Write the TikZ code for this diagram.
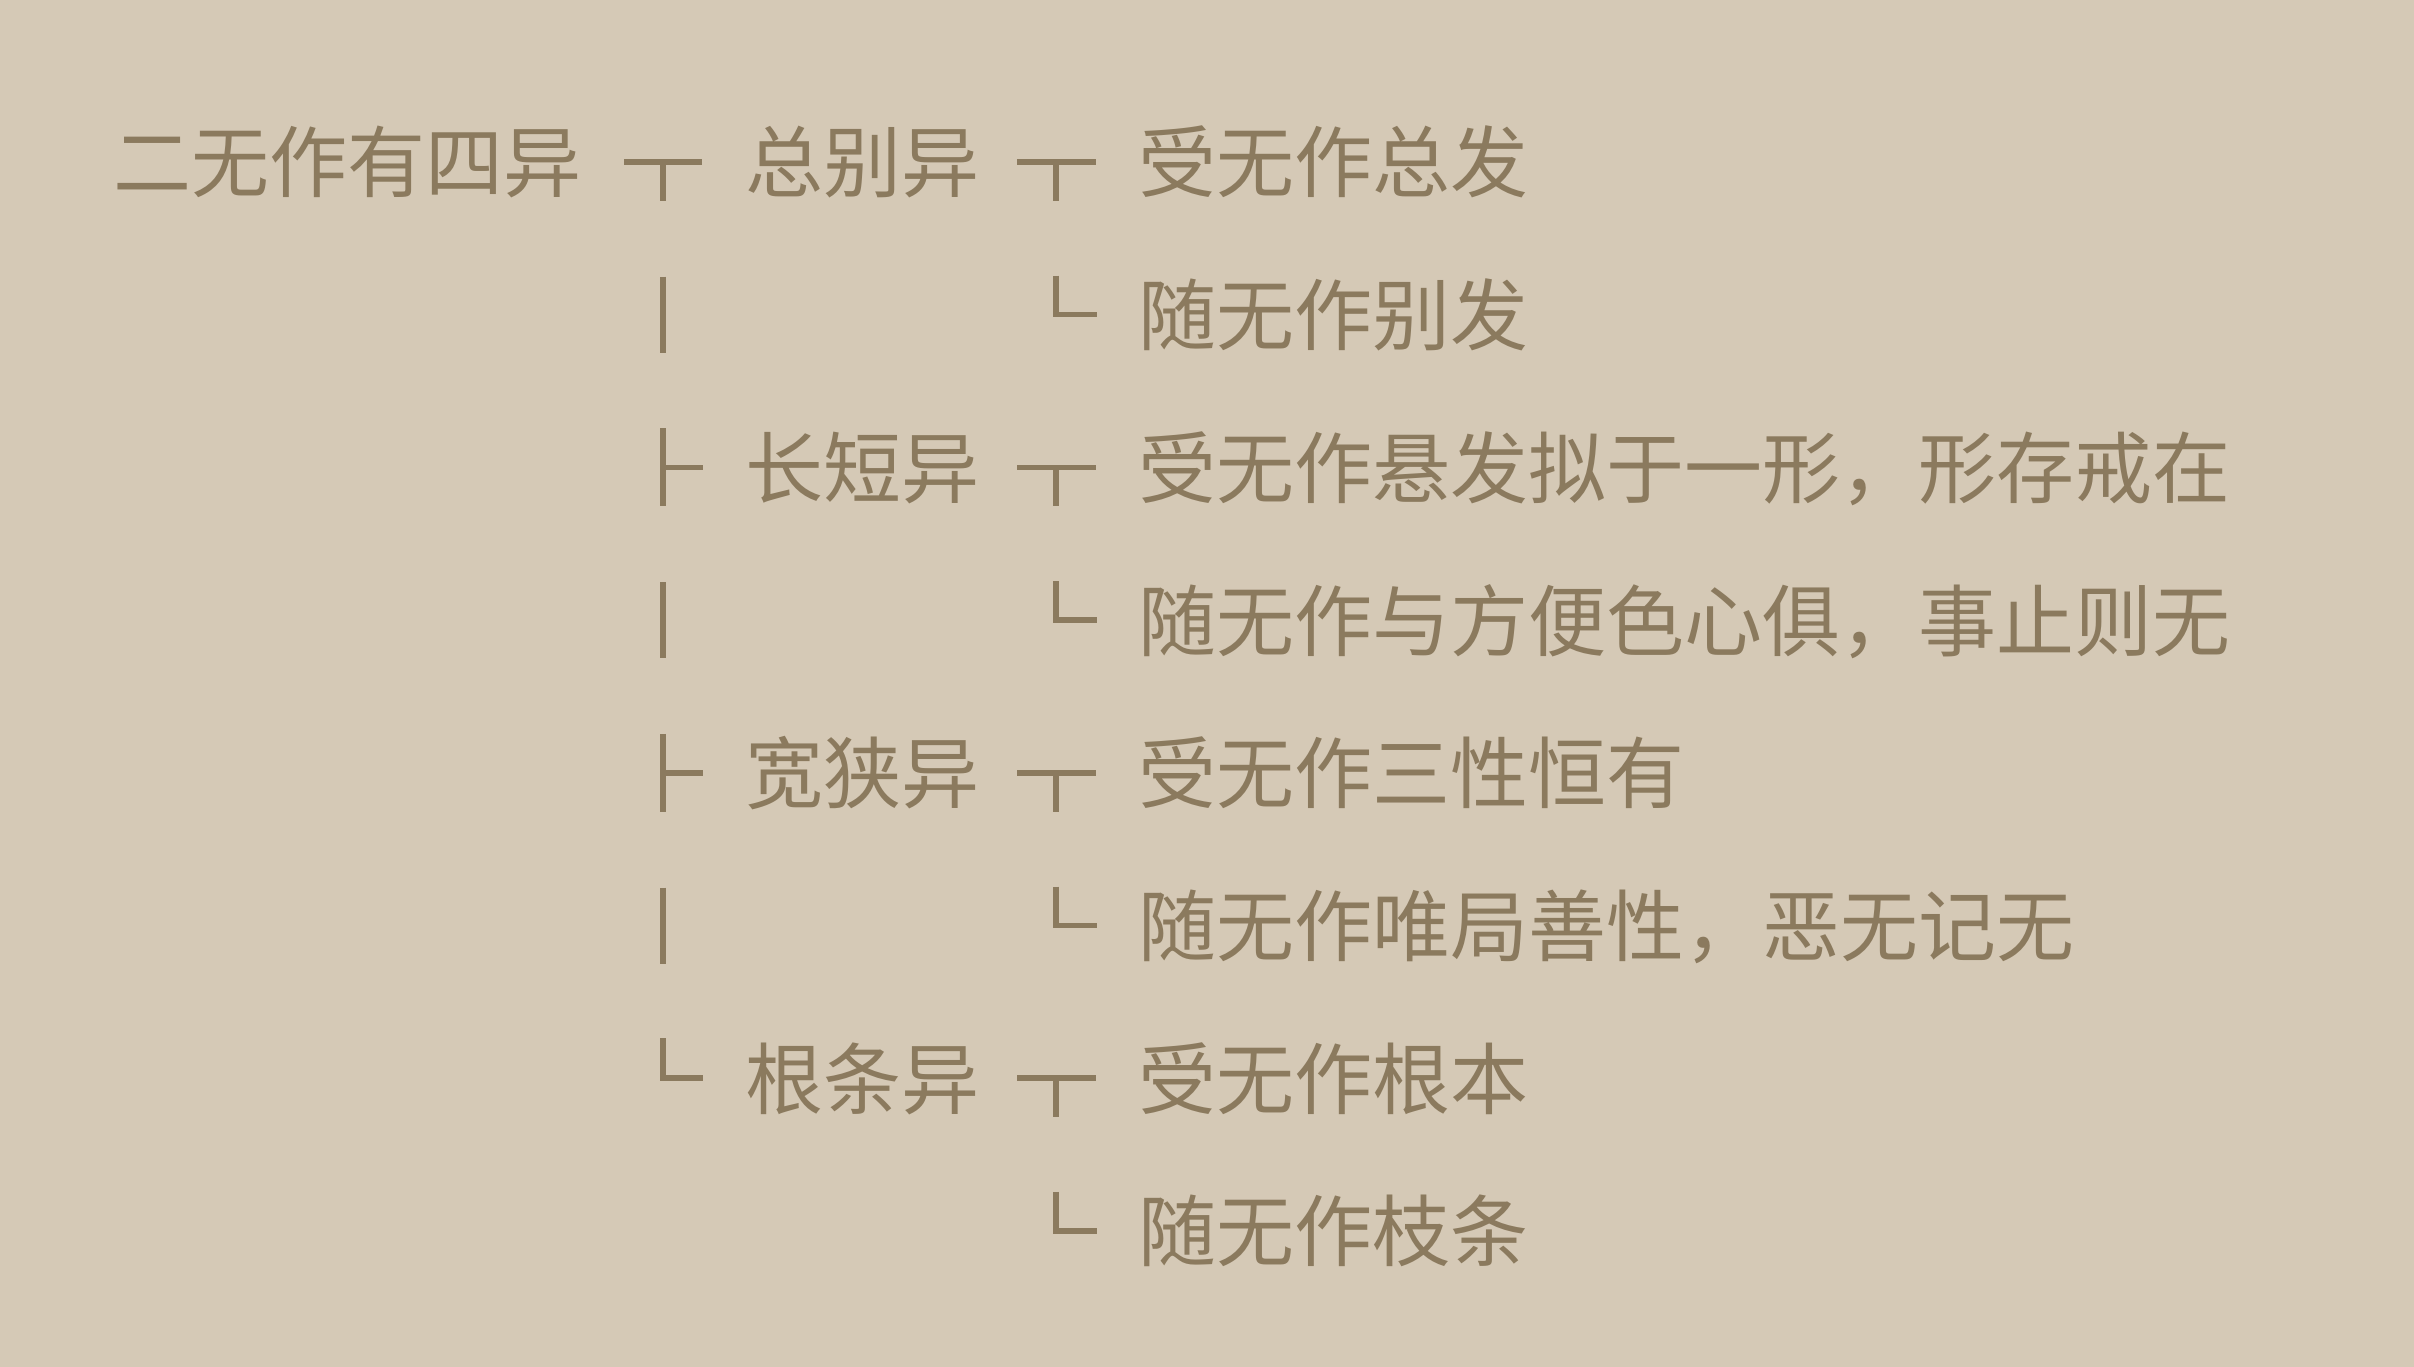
\documentclass[tikz,border=0pt]{standalone}
\usepackage{fontspec}
\newfontfamily\cjk{Noto Sans CJK SC}
\definecolor{bg}{RGB}{213,201,182}
\definecolor{ink}{RGB}{139,122,94}
\tikzset{
  lbl/.style={anchor=base west, inner sep=0pt, outer sep=0pt, text=ink, font=\cjk\fontsize{78}{78}\selectfont},
  br/.style={draw=ink, line width=5.5pt, line cap=butt, line join=miter}
}
\begin{document}
\begin{tikzpicture}[x=1pt,y=-1pt]
\fill[bg] (0,0) rectangle (2414,1367);
\useasboundingbox (0,0) rectangle (2414,1367);
% row centres
\def\ra{162}\def\rb{314.7}\def\rc{467.4}\def\rd{620.1}
\def\re{772.8}\def\rf{925.5}\def\rg{1078.2}\def\rh{1230.9}
% texts (baseline = centre + 30)
\node[lbl] (root) at (113,\ra+30) {二无作有四异};
\node[lbl] (b1) at (745,\ra+30) {总别异};
\node[lbl] (b2) at (745,\rc+30) {长短异};
\node[lbl] (b3) at (745,\re+30) {宽狭异};
\node[lbl] (b4) at (745,\rg+30) {根条异};
\node[lbl] (c1) at (1138,\ra+30) {受无作总发};
\node[lbl] (c2) at (1138,\rb+30) {随无作别发};
\node[lbl] (c3) at (1138,\rc+30) {受无作悬发拟于一形，形存戒在};
\node[lbl] (c4) at (1138,\rd+30) {随无作与方便色心俱，事止则无};
\node[lbl] (c5) at (1138,\re+30) {受无作三性恒有};
\node[lbl] (c6) at (1138,\rf+30) {随无作唯局善性，恶无记无};
\node[lbl] (c7) at (1138,\rg+30) {受无作根本};
\node[lbl] (c8) at (1138,\rh+30) {随无作枝条};
% bracket anchors
\coordinate (ja1) at (663,\ra);
\coordinate (ja2) at (663,\rb);
\coordinate (ja3) at (663,\rc);
\coordinate (ja4) at (663,\rd);
\coordinate (ja5) at (663,\re);
\coordinate (ja6) at (663,\rf);
\coordinate (ja7) at (663,\rg);
\coordinate (jb1) at (1056,\ra);
\coordinate (jb2) at (1056,\rb);
\coordinate (jb3) at (1056,\rc);
\coordinate (jb4) at (1056,\rd);
\coordinate (jb5) at (1056,\re);
\coordinate (jb6) at (1056,\rf);
\coordinate (jb7) at (1056,\rg);
\coordinate (jb8) at (1056,\rh);
% first level
\draw[br] ([xshift=-39pt]ja1) -- ([xshift=39pt]ja1) (ja1) -- ([yshift=-39pt]ja1);
\draw[br] ([yshift=38pt]ja2) -- ([yshift=-38pt]ja2);
\draw[br] ([yshift=39pt]ja3) -- ([yshift=-39pt]ja3) (ja3) -- ([xshift=40pt]ja3);
\draw[br] ([yshift=38pt]ja4) -- ([yshift=-38pt]ja4);
\draw[br] ([yshift=39pt]ja5) -- ([yshift=-39pt]ja5) (ja5) -- ([xshift=40pt]ja5);
\draw[br] ([yshift=38pt]ja6) -- ([yshift=-38pt]ja6);
\draw[br] ([yshift=40pt]ja7) -- (ja7) -- ([xshift=40pt]ja7);
% second level
\foreach \j in {jb1,jb3,jb5,jb7}{
  \draw[br] ([xshift=-39pt]\j) -- ([xshift=40pt]\j) (\j) -- ([yshift=-39pt]\j);
}
\foreach \j in {jb2,jb4,jb6,jb8}{
  \draw[br] ([yshift=39pt]\j) -- (\j) -- ([xshift=41pt]\j);
}
\end{tikzpicture}
\end{document}
